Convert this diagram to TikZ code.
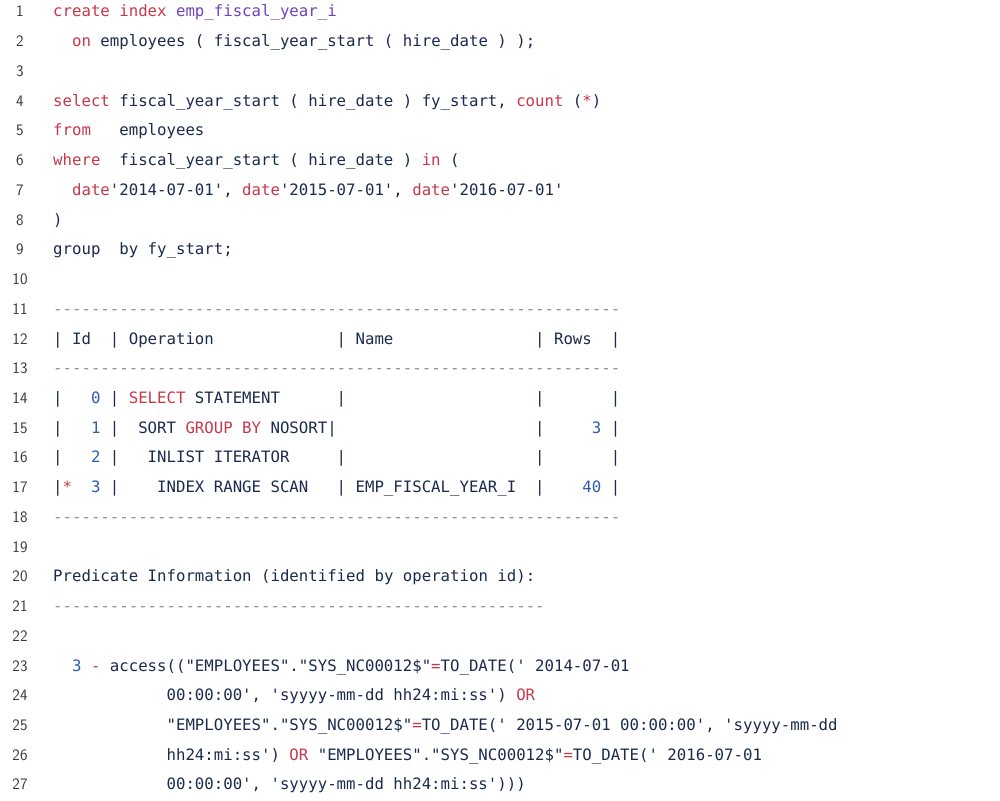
\documentclass[tikz,border=0pt]{standalone}
\usepackage{fontspec}
\newfontfamily\codefont{DejaVu Sans Mono}
\definecolor{kw}{HTML}{C8374A}
\definecolor{idc}{HTML}{6F42C1}
\definecolor{num}{HTML}{2F5CB0}
\definecolor{txt}{HTML}{1B2A4E}
\definecolor{dsh}{HTML}{8A8F99}
\definecolor{lno}{HTML}{3A3A3A}
\tikzset{tok/.style={anchor=base west,inner sep=0pt,font=\codefont\fontsize{15.7}{18}\selectfont},
 lnum/.style={anchor=base,inner sep=0pt,text=lno,font=\sffamily\fontsize{16}{18}\selectfont}}
\newcommand{\Tk}[4]{\node[tok,text=#3,name=t-#1-#2] at ({53+9.45*#2},{800-(17+29.73*(#1-1))}) {#4};}
\newcommand{\Ln}[1]{\node[lnum,name=n-#1] at (20,{800-(17+29.73*(#1-1))}) {#1};}
\begin{document}
\begin{tikzpicture}[x=1pt,y=1pt]
\fill[white] (0,0) rectangle (1000,800);
\useasboundingbox (0,0) rectangle (1000,800);
\foreach \i in {1,...,27}{\Ln{\i}}
% 1-2
\Tk{1}{0}{kw}{create}\Tk{1}{7}{kw}{index}\Tk{1}{13}{idc}{emp\_fiscal\_year\_i}
\Tk{2}{2}{kw}{on}\Tk{2}{5}{txt}{employees ( fiscal\_year\_start ( hire\_date ) );}
% 4
\Tk{4}{0}{kw}{select}\Tk{4}{7}{txt}{fiscal\_year\_start ( hire\_date ) fy\_start,}
\Tk{4}{49}{kw}{count}\Tk{4}{55}{txt}{(}\Tk{4}{56}{kw}{*}\Tk{4}{57}{txt}{)}
\Tk{5}{0}{kw}{from}\Tk{5}{7}{txt}{employees}
\Tk{6}{0}{kw}{where}\Tk{6}{7}{txt}{fiscal\_year\_start ( hire\_date )}\Tk{6}{39}{kw}{in}\Tk{6}{42}{txt}{(}
\Tk{7}{2}{kw}{date}\Tk{7}{6}{txt}{'2014-07-01',}\Tk{7}{20}{kw}{date}\Tk{7}{24}{txt}{'2015-07-01',}\Tk{7}{38}{kw}{date}\Tk{7}{42}{txt}{'2016-07-01'}
\Tk{8}{0}{txt}{)}
\Tk{9}{0}{txt}{group}\Tk{9}{7}{txt}{by fy\_start;}
% plan
\Tk{11}{0}{dsh}{------------------------------------------------------------}
\Tk{12}{0}{txt}{|}\Tk{12}{2}{txt}{Id}\Tk{12}{6}{txt}{|}\Tk{12}{8}{txt}{Operation}\Tk{12}{30}{txt}{|}\Tk{12}{32}{txt}{Name}\Tk{12}{51}{txt}{|}\Tk{12}{53}{txt}{Rows}\Tk{12}{59}{txt}{|}
\Tk{13}{0}{dsh}{------------------------------------------------------------}
\Tk{14}{0}{txt}{|}\Tk{14}{4}{num}{0}\Tk{14}{6}{txt}{|}\Tk{14}{8}{kw}{SELECT}\Tk{14}{15}{txt}{STATEMENT}\Tk{14}{30}{txt}{|}\Tk{14}{51}{txt}{|}\Tk{14}{59}{txt}{|}
\Tk{15}{0}{txt}{|}\Tk{15}{4}{num}{1}\Tk{15}{6}{txt}{|}\Tk{15}{9}{txt}{SORT}\Tk{15}{14}{kw}{GROUP}\Tk{15}{20}{kw}{BY}\Tk{15}{23}{txt}{NOSORT|}\Tk{15}{51}{txt}{|}\Tk{15}{57}{num}{3}\Tk{15}{59}{txt}{|}
\Tk{16}{0}{txt}{|}\Tk{16}{4}{num}{2}\Tk{16}{6}{txt}{|}\Tk{16}{10}{txt}{INLIST ITERATOR}\Tk{16}{30}{txt}{|}\Tk{16}{51}{txt}{|}\Tk{16}{59}{txt}{|}
\Tk{17}{0}{txt}{|}\Tk{17}{1}{kw}{*}\Tk{17}{4}{num}{3}\Tk{17}{6}{txt}{|}\Tk{17}{11}{txt}{INDEX RANGE SCAN}\Tk{17}{30}{txt}{|}\Tk{17}{32}{txt}{EMP\_FISCAL\_YEAR\_I}\Tk{17}{51}{txt}{|}\Tk{17}{56}{num}{40}\Tk{17}{59}{txt}{|}
\Tk{18}{0}{dsh}{------------------------------------------------------------}
% predicate
\Tk{20}{0}{txt}{Predicate Information (identified by operation id):}
\Tk{21}{0}{dsh}{----------------------------------------------------}
\Tk{23}{2}{num}{3}\Tk{23}{4}{kw}{-}\Tk{23}{6}{txt}{access(("EMPLOYEES"."SYS\_NC00012\$"}\Tk{23}{40}{kw}{=}\Tk{23}{41}{txt}{TO\_DATE(' 2014-07-01}
\Tk{24}{12}{txt}{00:00:00', 'syyyy-mm-dd hh24:mi:ss')}\Tk{24}{49}{kw}{OR}
\Tk{25}{12}{txt}{"EMPLOYEES"."SYS\_NC00012\$"}\Tk{25}{38}{kw}{=}\Tk{25}{39}{txt}{TO\_DATE(' 2015-07-01 00:00:00', 'syyyy-mm-dd}
\Tk{26}{12}{txt}{hh24:mi:ss')}\Tk{26}{25}{kw}{OR}\Tk{26}{28}{txt}{"EMPLOYEES"."SYS\_NC00012\$"}\Tk{26}{54}{kw}{=}\Tk{26}{55}{txt}{TO\_DATE(' 2016-07-01}
\Tk{27}{12}{txt}{00:00:00', 'syyyy-mm-dd hh24:mi:ss')))}
\end{tikzpicture}
\end{document}
